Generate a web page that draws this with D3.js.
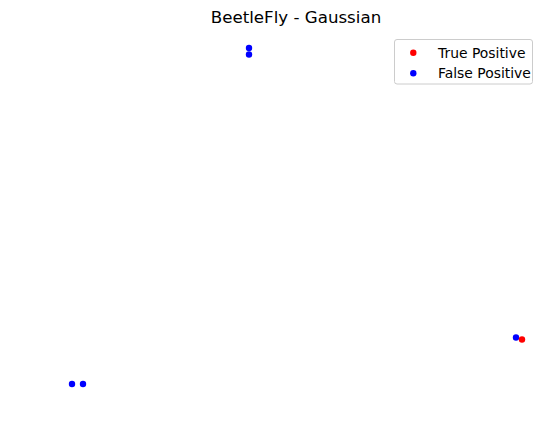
<!DOCTYPE html>
<html><head><meta charset="utf-8">
<script src="https://cdn.jsdelivr.net/npm/d3@7"></script>
<style>html,body{margin:0;padding:0;background:#fff;}svg{display:block;font-family:"DejaVu Sans",sans-serif;}</style>
</head><body>
<svg id="chart" width="558" height="435"></svg>
<script>
const title = "BeetleFly - Gaussian";
const seriesNames = ["True Positive", "False Positive"];
const seriesColors = ["#ff0000", "#0000ff"];
// True Positive points
const tpX = [6.0];
const tpY = [-1.11];
// False Positive points
const fpX = [0.54, 0.54, 5.88, -3.0, -2.78];
const fpY = [4.72, 4.59, -1.07, -2.0, -2.0];

const svg = d3.select("#chart");
const axL = 49.5, axR = 544.5, axT = 31.2, axB = 400.8;

const allX = tpX.concat(fpX), allY = tpY.concat(fpY);
const [x0, x1] = d3.extent(allX), [y0, y1] = d3.extent(allY);
const mx = (x1 - x0) * 0.05, my = (y1 - y0) * 0.05;
const x = d3.scaleLinear().domain([x0 - mx, x1 + mx]).range([axL, axR]);
const y = d3.scaleLinear().domain([y0 - my, y1 + my]).range([axB, axT]);

const r = 3.2;
// False positive first, true positive drawn on top
svg.append("g").selectAll("circle").data(fpX.map((d, i) => [d, fpY[i]])).join("circle")
  .attr("cx", d => x(d[0])).attr("cy", d => y(d[1])).attr("r", r).attr("fill", seriesColors[1]);
svg.append("g").selectAll("circle").data(tpX.map((d, i) => [d, tpY[i]])).join("circle")
  .attr("cx", d => x(d[0])).attr("cy", d => y(d[1])).attr("r", r).attr("fill", seriesColors[0]);

svg.append("text").attr("x", (axL + axR) / 2 - 1).attr("y", 23.3)
  .attr("text-anchor", "middle").attr("font-size", "16.67px").attr("fill", "#000").text(title);

// legend
const lg = svg.append("g");
lg.append("rect").attr("x", 394.5).attr("y", 39.5).attr("width", 138).attr("height", 44.5)
  .attr("rx", 2.5).attr("fill", "#fff").attr("fill-opacity", 0.8).attr("stroke", "#cccccc").attr("stroke-width", 1);
seriesNames.forEach((n, i) => {
  const cy = 52.7 + i * 20.6;
  lg.append("circle").attr("cx", 413.3).attr("cy", cy).attr("r", r).attr("fill", seriesColors[i]);
  lg.append("text").attr("x", 438).attr("y", cy + 4.9).attr("font-size", "13.9px").attr("fill", "#000").text(n);
});
</script>
</body></html>
